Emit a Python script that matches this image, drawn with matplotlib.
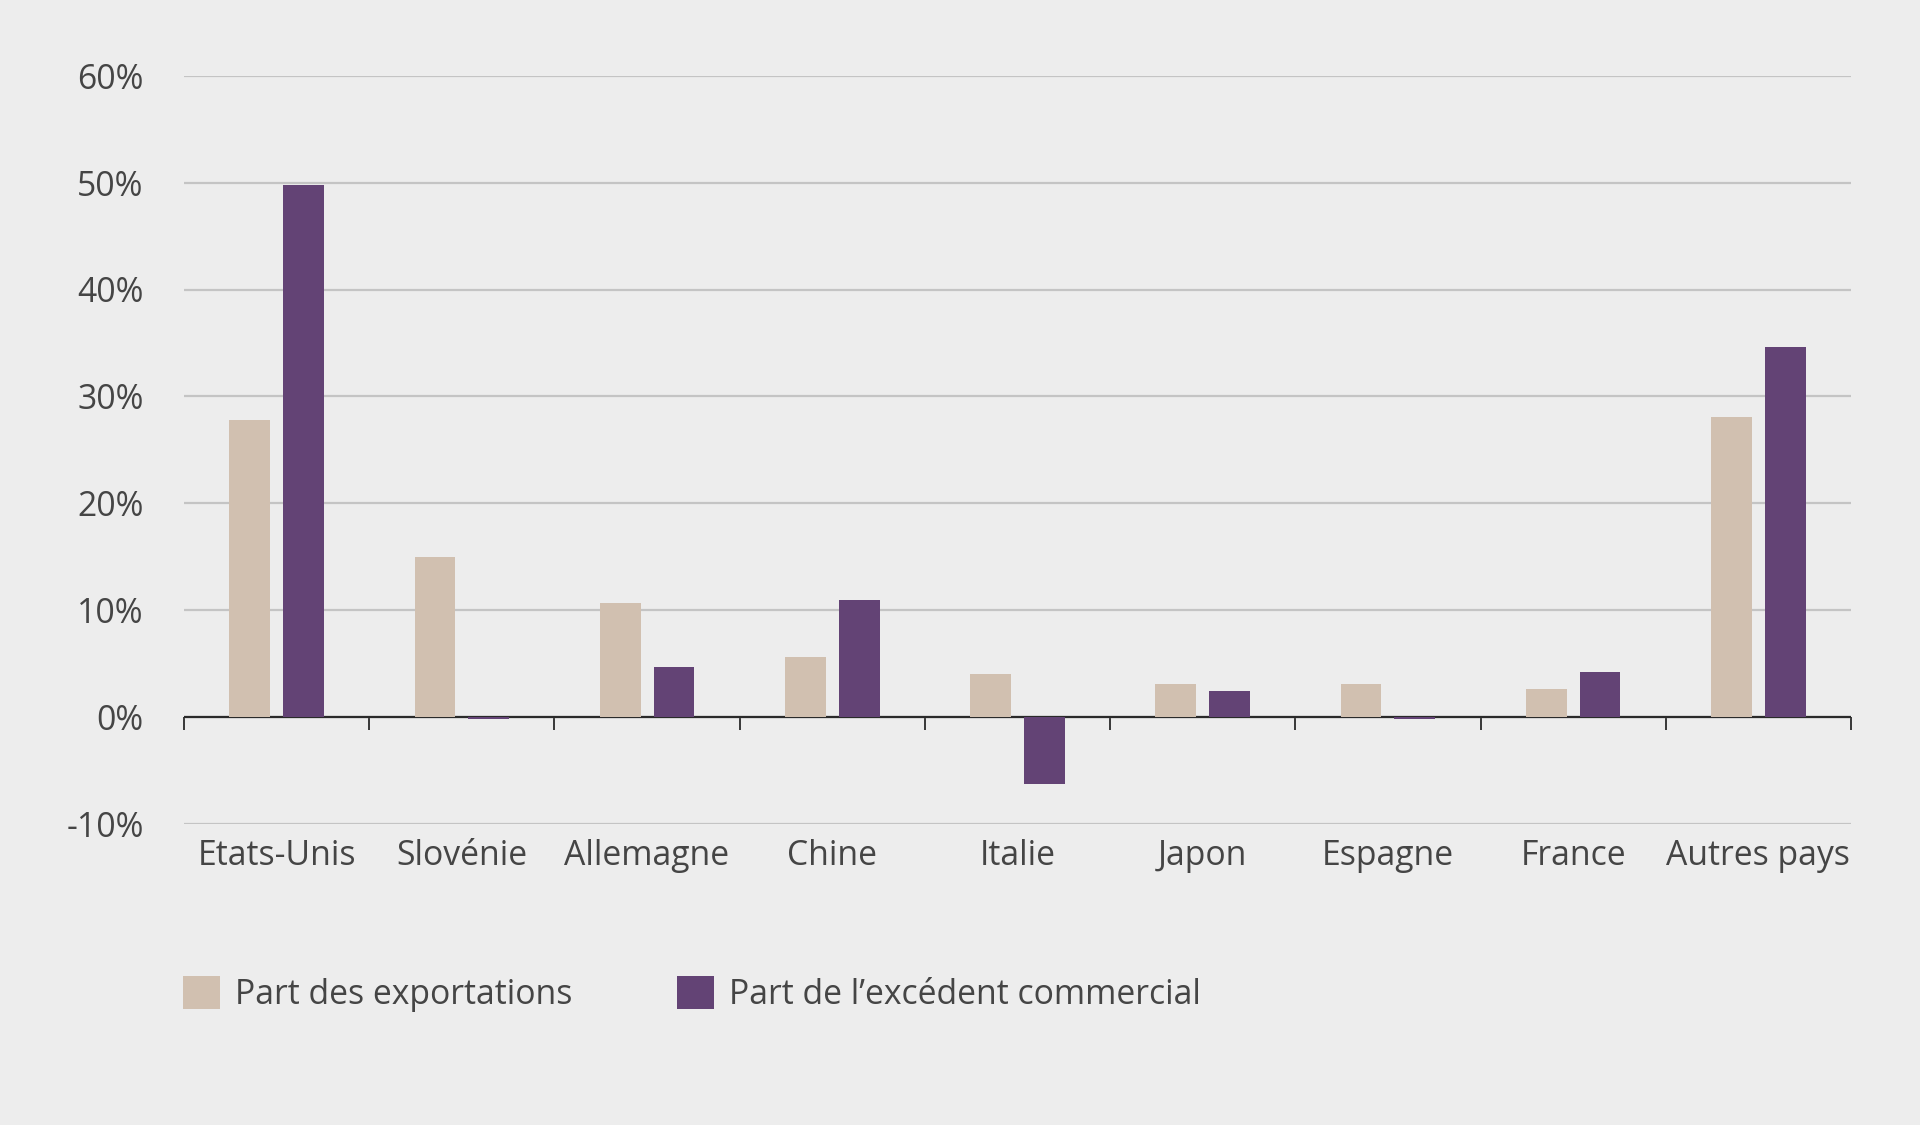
import matplotlib
matplotlib.use("Agg")
import matplotlib.pyplot as plt
from matplotlib.patches import Patch
from matplotlib.ticker import FuncFormatter
import numpy as np

categories = ["Etats-Unis", "Slovénie", "Allemagne", "Chine", "Italie",
              "Japon", "Espagne", "France", "Autres pays"]
exports = [27.8, 15.0, 10.7, 5.6, 4.0, 3.1, 3.1, 2.6, 28.1]
surplus = [49.8, -0.2, 4.7, 11.0, -6.3, 2.4, -0.2, 4.2, 34.6]
series_labels = ["Part des exportations", "Part de l\u2019excédent commercial"]
y_ticks = [-10, 0, 10, 20, 30, 40, 50, 60]

BG = "#EDEDED"
C_EXP = "#D1C0B0"
C_SUR = "#634375"
TXT = "#454545"
FONT = ["Open Sans", "DejaVu Sans"]
FS = 24.3

plt.rcParams["font.family"] = FONT

fig = plt.figure(figsize=(19.2, 11.25), dpi=100, facecolor=BG)
ax = fig.add_axes([184/1920, 1-824/1125, (1851-184)/1920, (824-75.7)/1125])
ax.set_facecolor(BG)

x = np.arange(len(categories))
w = 0.22
off = 0.145
ax.bar(x - off, exports, width=w, color=C_EXP, zorder=5)
ax.bar(x + off, surplus, width=w, color=C_SUR, zorder=5)

ax.set_xlim(-0.5, len(categories) - 0.5)
ax.set_ylim(-10, 60)
ax.set_yticks(y_ticks)
ax.yaxis.set_major_formatter(FuncFormatter(lambda v, p: f"{v:.0f}%"))
ax.grid(axis="y", color="#C4C4C4", linewidth=1.6, zorder=0)
ax.set_axisbelow(True)
for s in ax.spines.values():
    s.set_visible(False)

ax.set_xticks(x)
ax.set_xticklabels(categories)
ax.tick_params(axis="x", length=0, pad=11, labelsize=FS, labelcolor=TXT)
ax.tick_params(axis="y", length=0, pad=29, labelsize=FS, labelcolor=TXT)

# zero line with category boundary ticks
ax.axhline(0, color="#2A2A2A", linewidth=1.6, zorder=4)
sec = ax.secondary_xaxis(10/70)
sec.set_xticks(np.arange(len(categories) + 1) - 0.5)
sec.set_xticklabels([])
sec.tick_params(axis="x", direction="out", length=9, width=1.3, color="#2A2A2A")
sec.spines["bottom"].set_visible(False)

handles = [Patch(facecolor=C_EXP, edgecolor="none"),
           Patch(facecolor=C_SUR, edgecolor="none")]
fig.legend(handles, series_labels, loc="center left",
           bbox_to_anchor=(183/1920, 1-994/1125), ncol=2, frameon=False,
           fontsize=FS, labelcolor=TXT, handlelength=1.1, handleheight=1.1,
           handletextpad=0.45, columnspacing=3.08, borderpad=0, borderaxespad=0)

fig.savefig("out.png", dpi=100, facecolor=BG)
